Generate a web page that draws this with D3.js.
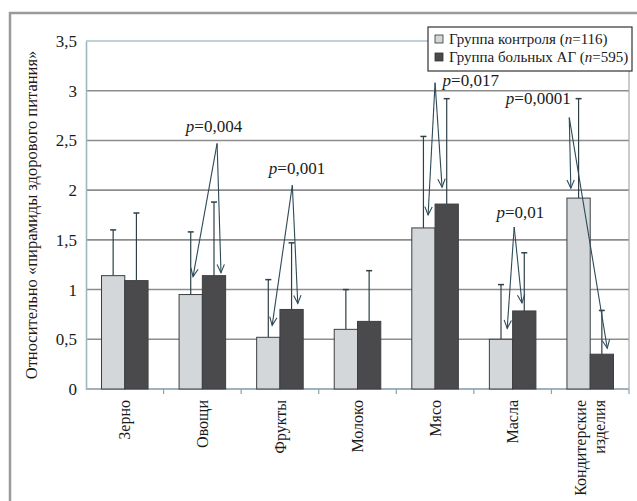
<!DOCTYPE html>
<html>
<head>
<meta charset="UTF-8">
<style>
  body { margin: 0; background: #fff; }
  svg text { font-family: 'Liberation Serif' !important; }
</style>
</head>
<body>
<script src="https://cdn.jsdelivr.net/npm/d3@7/dist/d3.min.js"></script>
<script>
// данные
var categories = ["Зерно", "Овощи", "Фрукты", "Молоко", "Мясо", "Масла", "Кондитерские изделия"];
var control = [1.14, 0.95, 0.52, 0.60, 1.62, 0.50, 1.92];       // группа контроля
var controlErr = [1.60, 1.58, 1.10, 1.00, 2.54, 1.05, 2.92];    // верх планки
var patients = [1.09, 1.14, 0.80, 0.68, 1.86, 0.785, 0.35];     // больные АГ
var patientsErr = [1.77, 1.88, 1.47, 1.19, 2.92, 1.37, 0.79];
var yTicks = [0, 0.5, 1, 1.5, 2, 2.5, 3, 3.5];
var seriesNames = ["Группа контроля (", "Группа больных АГ ("];
var seriesN = ["116", "595"];

// подписи p: категория, текст, вершина стрелок и острия (x — доля полосы, y — значение)
var pLabels = ["0,004", "0,001", "0,017", "0,01", "0,0001"];
var pCats = [1, 2, 4, 5, 6];
var pPeak = [[0.69, 2.47], [0.66, 2.05], [0.50, 3.08], [0.52, 1.63], [0.23, 2.73]];
var pTipL = [[0.38, 1.13], [0.40, 0.64], [0.41, 1.75], [0.43, 0.61], [0.25, 2.02]];
var pTipR = [[0.74, 1.17], [0.73, 0.86], [0.59, 2.03], [0.62, 0.865], [0.72, 0.41]];
var pText = [[0.65, 2.585], [0.72, 2.16], [0.96, 3.05], [0.60, 1.72], [-0.17, 2.87]];

var W = 637, H = 501;
var margin = { left: 86, right: 8, top: 41, bottom: 112 };

var svg = d3.select("body").append("svg").attr("width", W).attr("height", H)
  .attr("font-family", "Liberation Serif");

// рамка
svg.append("rect").attr("x", 10).attr("y", 13).attr("width", 660).attr("height", 520)
  .attr("fill", "none").attr("stroke", "#9a9a9a").attr("stroke-width", 2.5);

var x = d3.scaleBand().domain(categories).range([margin.left, W - margin.right]);
var y = d3.scaleLinear().domain([0, 3.5]).range([H - margin.bottom, margin.top]);
var bw = x.bandwidth();
var barW = bw * 0.3;

// сетка
svg.append("g").selectAll("line").data(yTicks).join("line")
  .attr("x1", margin.left).attr("x2", W - margin.right)
  .attr("y1", function (d) { return y(d); }).attr("y2", function (d) { return y(d); })
  .attr("stroke", function (d) { return d == 3.5 ? "#a9c3cf" : "#8d8d8d"; })
  .attr("stroke-width", 1.6);

// правая граница области
svg.append("line").attr("x1", W - margin.right).attr("x2", W - margin.right)
  .attr("y1", y(3.5)).attr("y2", y(0)).attr("stroke", "#a8a8a8").attr("stroke-width", 1.2);

// ось Y
var yAxis = d3.axisLeft(y).tickValues(yTicks).tickSize(0).tickPadding(9)
  .tickFormat(function (d) { return String(d).replace(".", ","); });
var gy = svg.append("g").attr("transform", "translate(" + margin.left + ",0)").call(yAxis)
  .attr("font-family", "Liberation Serif").attr("font-size", 17);
gy.select(".domain").attr("stroke", "#9fb6c2").attr("stroke-width", 1.6);
gy.selectAll("text").attr("fill", "#1a1a1a");

// ось X с делениями на границах категорий
svg.append("line").attr("x1", margin.left).attr("x2", W - margin.right)
  .attr("y1", y(0)).attr("y2", y(0)).attr("stroke", "#9fb6c2").attr("stroke-width", 1.6);
svg.append("g").selectAll("line").data(categories).join("line")
  .attr("x1", function (d) { return x(d) + bw; }).attr("x2", function (d) { return x(d) + bw; })
  .attr("y1", y(0)).attr("y2", y(0) + 5).attr("stroke", "#8aa3b0").attr("stroke-width", 1.2);

// подписи категорий
var catG = svg.append("g");
categories.forEach(function (c) {
  var cx = x(c) + bw / 2;
  var words = c.split(" ");
  var t = catG.append("text").attr("transform", "translate(" + cx + "," + (y(0) + 11) + ") rotate(-90)")
    .attr("text-anchor", "end").attr("font-size", 16).attr("fill", "#1a1a1a");
  words.forEach(function (w, i) {
    t.append("tspan").attr("x", 0).attr("dy", i == 0 ? (words.length > 1 ? "-0.25em" : "0.35em") : "1.15em").text(w);
  });
});

// столбцы
function drawSeries(vals, errs, offset, fill) {
  var g = svg.append("g");
  g.selectAll("line.err").data(vals).join("line")
    .attr("x1", function (d, i) { return x(categories[i]) + offset + barW / 2; })
    .attr("x2", function (d, i) { return x(categories[i]) + offset + barW / 2; })
    .attr("y1", function (d) { return y(d); })
    .attr("y2", function (d, i) { return y(errs[i]); })
    .attr("stroke", "#2f3f48").attr("stroke-width", 1.2);
  g.selectAll("line.cap").data(errs).join("line")
    .attr("x1", function (d, i) { return x(categories[i]) + offset + barW / 2 - 3; })
    .attr("x2", function (d, i) { return x(categories[i]) + offset + barW / 2 + 3; })
    .attr("y1", function (d) { return y(d); }).attr("y2", function (d) { return y(d); })
    .attr("stroke", "#2f3f48").attr("stroke-width", 1.5);
  g.selectAll("rect").data(vals).join("rect")
    .attr("x", function (d, i) { return x(categories[i]) + offset; })
    .attr("y", function (d) { return y(d); })
    .attr("width", barW)
    .attr("height", function (d) { return y(0) - y(d); })
    .attr("fill", fill).attr("stroke", "#3c3f42").attr("stroke-width", 1);
}
var gapL = (bw - 2 * barW) / 2;
drawSeries(control, controlErr, gapL, "#d3d7d9");
drawSeries(patients, patientsErr, gapL + barW, "#4a4a4d");

// стрелки со значениями p
var aCol = "#2c4a57";
function arrow(g, x1, y1, x2, y2) {
  g.append("line").attr("x1", x1).attr("y1", y1).attr("x2", x2).attr("y2", y2)
    .attr("stroke", aCol).attr("stroke-width", 1.1);
  var ang = Math.atan2(y2 - y1, x2 - x1);
  var L = 9, a = 0.42;
  var p = d3.path();
  p.moveTo(x2 - L * Math.cos(ang - a), y2 - L * Math.sin(ang - a));
  p.lineTo(x2, y2);
  p.lineTo(x2 - L * Math.cos(ang + a), y2 - L * Math.sin(ang + a));
  g.append("path").attr("d", p.toString()).attr("fill", "none")
    .attr("stroke", aCol).attr("stroke-width", 1.1);
}
var ag = svg.append("g");
pLabels.forEach(function (lab, k) {
  var x0 = x(categories[pCats[k]]);
  var px = x0 + pPeak[k][0] * bw, py = y(pPeak[k][1]);
  arrow(ag, px, py, x0 + pTipL[k][0] * bw, y(pTipL[k][1]));
  arrow(ag, px, py, x0 + pTipR[k][0] * bw, y(pTipR[k][1]));
  var t = ag.append("text").attr("x", x0 + pText[k][0] * bw).attr("y", y(pText[k][1]))
    .attr("text-anchor", "middle").attr("font-size", 17).attr("fill", "#1a1a1a");
  t.append("tspan").attr("font-style", "italic").text("p");
  t.append("tspan").text("=" + lab);
});

// легенда
var lg = svg.append("g").attr("transform", "translate(428,27)");
lg.append("rect").attr("width", 204).attr("height", 44).attr("fill", "#fff")
  .attr("stroke", "#333").attr("stroke-width", 1.2);
[["#d3d7d9", 0], ["#4a4a4d", 1]].forEach(function (s) {
  var yy = 12 + s[1] * 18;
  lg.append("rect").attr("x", 7).attr("y", yy - 4).attr("width", 8).attr("height", 8)
    .attr("fill", s[0]).attr("stroke", "#333").attr("stroke-width", 0.8);
  var t = lg.append("text").attr("x", 21).attr("y", yy + 5).attr("font-size", 15)
    .attr("fill", "#1a1a1a");
  t.append("tspan").text(seriesNames[s[1]]);
  t.append("tspan").attr("font-style", "italic").text("n");
  t.append("tspan").text("=" + seriesN[s[1]] + ")");
});

// подпись оси Y
svg.append("text").attr("transform", "translate(37," + ((y(0) + y(3.5)) / 2) + ") rotate(-90)")
  .attr("text-anchor", "middle").attr("font-size", 16.5).attr("fill", "#1a1a1a")
  .text("Относительно «пирамиды здорового питания»");
</script>
</body>
</html>
